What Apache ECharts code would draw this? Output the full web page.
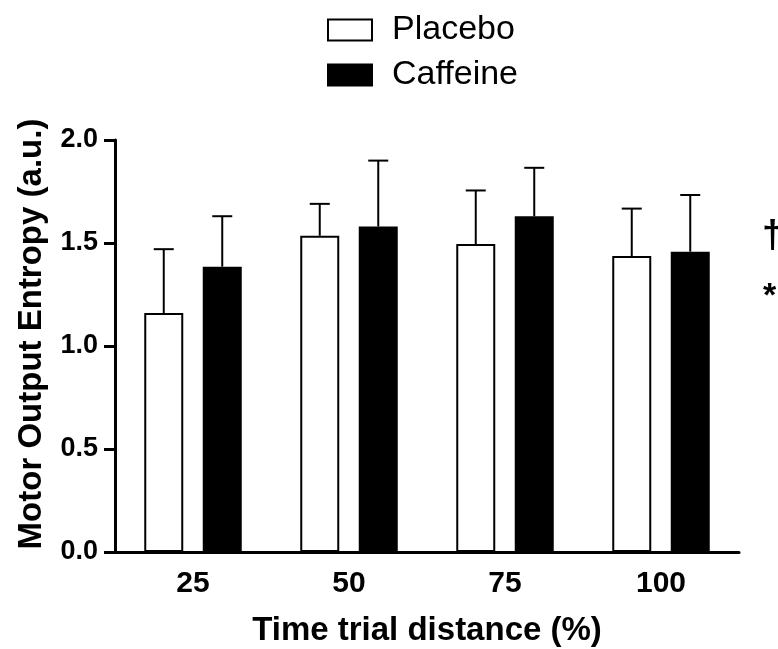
<!DOCTYPE html>
<html>
<head>
<meta charset="utf-8">
<script src="https://cdn.jsdelivr.net/npm/echarts@6/dist/echarts.min.js"></script>
<style>
    html, body { margin: 0; padding: 0; background: #fff; }
    #chart { width: 778px; height: 649px; }
</style>
</head>
<body>
<div id="chart"></div>
<script>
    // 数据
    var categories = ['25', '50', '75', '100'];
    var placebo = [1.16, 1.535, 1.495, 1.437];
    var placeboErr = [0.31, 0.155, 0.26, 0.23];
    var caffeine = [1.385, 1.58, 1.63, 1.458];
    var caffeineErr = [0.245, 0.32, 0.235, 0.275];
    var yTicks = [0, 0.5, 1.0, 1.5, 2.0];

    var font = 'Liberation Sans, Arial, sans-serif';
    var barW = 39;
    var barOffset = 29.25; // (barWidth + gap) / 2

    function errorSeries(name, means, errs, dx) {
        return {
            name: name + ' err',
            type: 'custom',
            silent: true,
            z: 1,
            data: means.map(function (m, i) { return [i, m, m + errs[i]]; }),
            renderItem: function (params, api) {
                var lo = api.coord([api.value(0), api.value(1)]);
                var hi = api.coord([api.value(0), api.value(2)]);
                var x = lo[0] + dx;
                var st = { stroke: '#000', lineWidth: 2 };
                return {
                    type: 'group',
                    children: [
                        { type: 'line', shape: { x1: x, y1: lo[1], x2: x, y2: hi[1] }, style: st },
                        { type: 'line', shape: { x1: x - 10, y1: hi[1], x2: x + 10, y2: hi[1] }, style: st }
                    ]
                };
            }
        };
    }

    var option = {
        animation: false,
        textStyle: { fontFamily: font },
        legend: {
            orient: 'vertical',
            left: 322,
            top: 8,
            icon: 'rect',
            itemWidth: 44,
            itemHeight: 21,
            itemGap: 11,
            data: ['Placebo', 'Caffeine'],
            textStyle: { fontFamily: font, fontSize: 34, lineHeight: 34, color: '#000', padding: [0, 0, 0, 15] }
        },
        grid: { left: 115, right: 39, top: 140, bottom: 97, containLabel: false, outerBoundsMode: 'none' },
        xAxis: {
            type: 'category',
            data: categories,
            axisLine: { lineStyle: { color: '#000', width: 3 } },
            axisTick: { alignWithLabel: true, length: 10, lineStyle: { color: '#000', width: 3 } },
            axisLabel: { color: '#000', fontSize: 30, fontWeight: 'bold', margin: 17, fontFamily: font },
            name: 'Time trial distance (%)',
            nameLocation: 'middle',
            nameGap: 62,
            nameMoveOverlap: false,
            nameTextStyle: { color: '#000', fontSize: 33, fontWeight: 'bold', fontFamily: font }
        },
        yAxis: {
            type: 'value',
            min: yTicks[0],
            max: yTicks[yTicks.length - 1],
            interval: 0.5,
            axisLine: { show: true, lineStyle: { color: '#000', width: 3 } },
            axisTick: { show: true, length: 11, lineStyle: { color: '#000', width: 3 } },
            splitLine: { show: false },
            axisLabel: {
                color: '#000', fontSize: 27, fontWeight: 'bold', margin: 17, fontFamily: font,
                formatter: function (v) { return v.toFixed(1); }
            },
            name: 'Motor Output Entropy (a.u.)',
            nameLocation: 'middle',
            nameGap: 67,
            nameMoveOverlap: false,
            nameTextStyle: { color: '#000', fontSize: 33, fontWeight: 'bold', fontFamily: font, padding: [0, 0, 0, 24] }
        },
        series: [
            {
                name: 'Placebo',
                type: 'bar',
                barWidth: barW,
                barGap: '50%',
                z: 2,
                data: placebo,
                itemStyle: { color: '#fff', borderColor: '#000', borderWidth: 2 }
            },
            {
                name: 'Caffeine',
                type: 'bar',
                barWidth: barW,
                barGap: '50%',
                z: 2,
                data: caffeine,
                itemStyle: { color: '#000', borderColor: '#000', borderWidth: 2 }
            },
            errorSeries('Placebo', placebo, placeboErr, -barOffset),
            errorSeries('Caffeine', caffeine, caffeineErr, barOffset)
        ],
        graphic: [
            { type: 'text', left: 762, top: 218, style: { text: '†', fontSize: 38, fontWeight: 'bold', fontFamily: font, fill: '#000' } },
            { type: 'text', left: 763, top: 280, style: { text: '*', fontSize: 34, fontWeight: 'bold', fontFamily: font, fill: '#000' } }
        ]
    };

    var chart = echarts.init(document.getElementById('chart'));
    chart.setOption(option);
</script>
</body>
</html>
